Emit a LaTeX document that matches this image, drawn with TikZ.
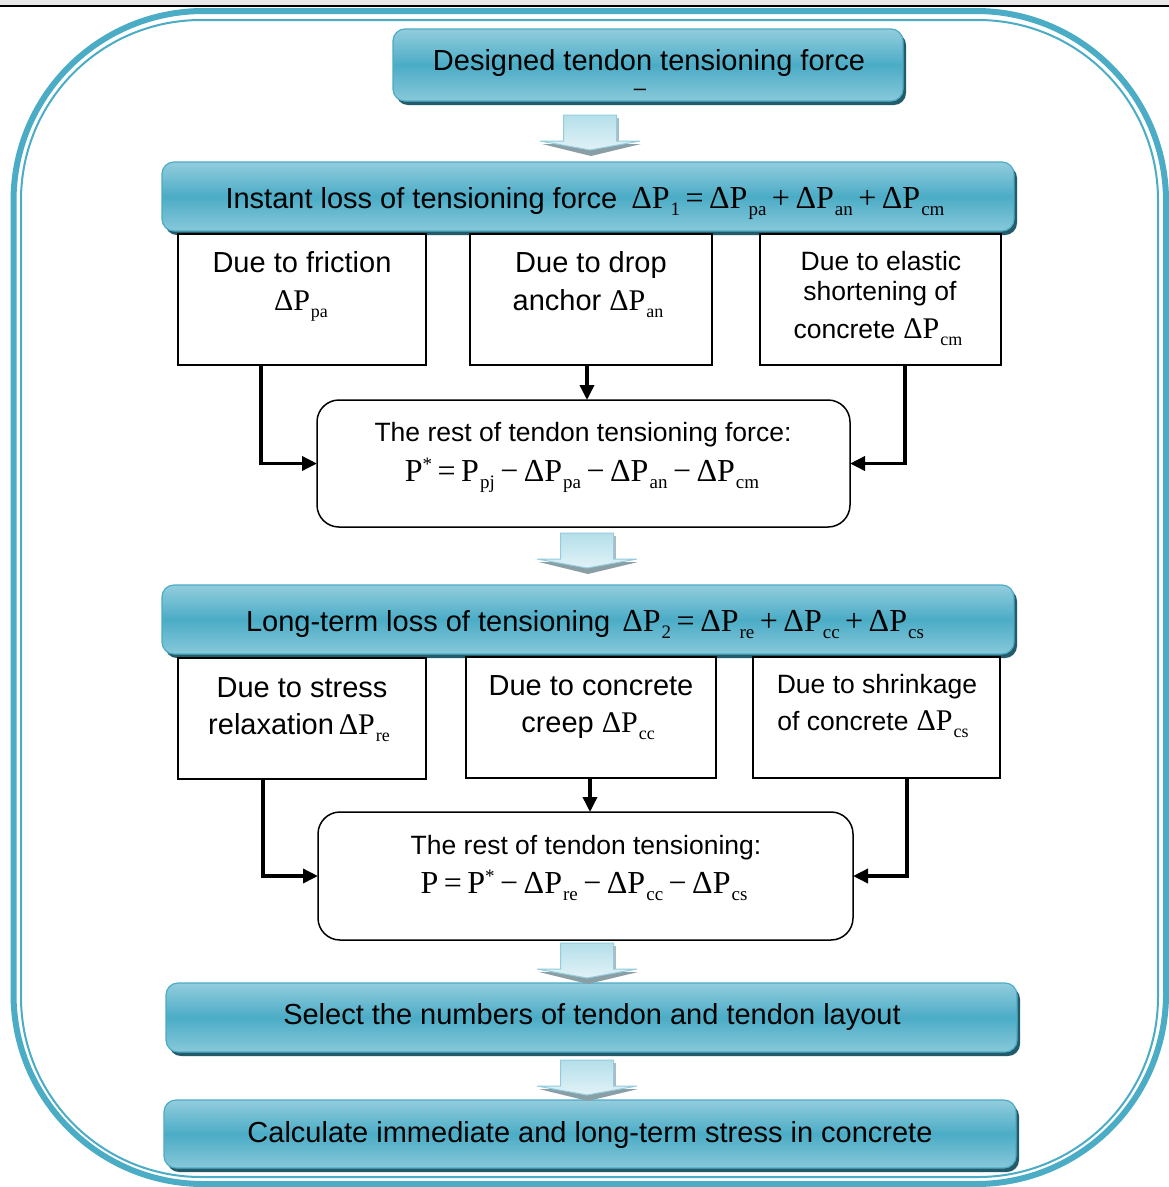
\documentclass[tikz,border=0pt]{standalone}
\usepackage{fontspec}
\setmainfont{Liberation Sans}
\newfontfamily\tms{Liberation Serif}
\usetikzlibrary{arrows.meta,shadows,calc}
\definecolor{teal1}{HTML}{4BACC6}
\definecolor{teall}{HTML}{93CDDD}
\definecolor{tshadow}{HTML}{245B6B}
\definecolor{arrlight}{HTML}{E2F2F7}
\definecolor{arrmid}{HTML}{B4DFEA}
\definecolor{arrshadow}{HTML}{8A9FA5}
\newcommand\mfs{\fontsize{32}{32}\selectfont}
\newcommand\sfs{\fontsize{19}{19}\selectfont}
\newcommand\bfs{\fontsize{30}{30}\selectfont}
\newcommand\bsfs{\fontsize{18}{18}\selectfont}
\newcommand\DP[1]{{\tms\mfs ΔP\kern1pt\raisebox{-7.5pt}{\sfs #1}}}
\newcommand\DPb[1]{{\tms\bfs ΔP\kern1pt\raisebox{-7pt}{\bsfs #1}}}
\newcommand\Pp[1]{{\tms\mfs P\kern1pt\raisebox{-7.5pt}{\sfs #1}}}
\newcommand\Pst{{\tms\mfs P\raisebox{11pt}{\sfs *}}}
\newcommand\op[1]{{\tms\mfs\hspace{5.5pt}#1\hspace{5.5pt}}}
\tikzset{
  barrow/.pic={
    \fill[arrshadow] (-48,29) -- (51,29) -- (1,41) -- cycle;
    \fill[arrshadow!70] (26.5,3) rectangle (29,27);
    \draw[teall, line width=1pt, top color=arrmid, bottom color=arrlight]
      (-26.5,0) -- (26.5,0) -- (26.5,26) -- (50,26) -- (0,35)
      -- (-50,26) -- (-26.5,26) -- cycle;
  }
}
\begin{document}
\begin{tikzpicture}[x=1pt,y=-1pt,
  hdr/.style={draw=teal1, line width=1.2pt, rounded corners=12pt,
    top color=teall, bottom color=teall!85!teal1, middle color=teal1,
    inner sep=0pt, outer sep=0pt,
    general shadow={fill=tshadow, shadow xshift=3pt, shadow yshift=-4pt}},
  pbox/.style={draw=black, line width=1.5pt, fill=white, inner sep=0pt, outer sep=0pt},
  rbox/.style={pbox, rounded corners=22pt},
  conn/.style={line width=3.5pt, -{Triangle[length=15pt,width=14pt]}},
  lbl/.style={anchor=base, inner sep=0pt, font=\fontsize{29}{34}\selectfont},
  lbls/.style={anchor=base, inner sep=0pt, font=\fontsize{26.5}{30}\selectfont},
]
\useasboundingbox (0,0) rectangle (1169,1187);
\fill[white] (0,0) rectangle (1169,1187);
% top strip
\fill[gray!18] (0,0) rectangle (1169,5);
\draw[line width=2pt] (0,6) -- (1169,6);
% frame
\draw[teal1, line width=6pt, rounded corners=190pt] (13.5,11) rectangle (1166,1184);
\draw[teal1, line width=2pt, rounded corners=180pt] (21,20) rectangle (1158,1177);

% headers
\node[hdr, minimum width=510pt, minimum height=72pt] (h1) at (648,65) {};
\node[hdr, minimum width=852pt, minimum height=69pt] (h2) at (588,196.5) {};
\node[hdr, minimum width=852pt, minimum height=69pt] (h3) at (588,619.5) {};
\node[hdr, minimum width=851pt, minimum height=69pt] (h4) at (591.5,1017.5) {};
\node[hdr, minimum width=852pt, minimum height=68pt] (h5) at (590,1134) {};

% plain boxes
\node[pbox, minimum width=248pt, minimum height=131pt] (fr) at (302,299.5) {};
\node[pbox, minimum width=242pt, minimum height=131pt] (dr) at (591,299.5) {};
\node[pbox, minimum width=241pt, minimum height=131pt] (el) at (880.5,299.5) {};
\node[rbox, minimum width=533pt, minimum height=127pt] (rest) at (583.5,463.5) {};
\node[pbox, minimum width=248pt, minimum height=121pt] (sr) at (302,718.5) {};
\node[pbox, minimum width=250pt, minimum height=121pt] (cr) at (591,717.5) {};
\node[pbox, minimum width=247pt, minimum height=121pt] (sh) at (876.5,717.5) {};
\node[rbox, minimum width=535pt, minimum height=128pt] (rest2) at (585.5,876) {};

% block arrows
\pic at (590,115) {barrow};
\pic at (587,533) {barrow};
\pic at (587,943) {barrow};
\pic at (587,1060) {barrow};

% connectors
\draw[conn] ([xshift=-41pt]fr.south) |- (rest.west);
\draw[conn] ([xshift=-4pt]dr.south) -- ([xshift=-4pt]dr.south |- rest.north);
\draw[conn] ([xshift=24.5pt]el.south) |- (rest.east);
\draw[conn] ([xshift=-39pt]sr.south) |- (rest2.west);
\draw[conn] ([xshift=-1pt]cr.south) -- ([xshift=-1pt]cr.south |- rest2.north);
\draw[conn] ([xshift=30.5pt]sh.south) |- (rest2.east);

% texts
\node[lbl] (t1) at (649,70) {Designed tendon tensioning force};
\node[anchor=base, inner sep=0pt, font=\fontsize{22}{22}\selectfont] (t1b) at (640,95) {–};
\node[lbl] (t2) at (585,208) {Instant loss of tensioning force\hspace{14pt}\DP{1}\op{=}\DP{pa}\op{+}\DP{an}\op{+}\DP{cm}};
\node[lbl] (t3a) at (302,272) {Due to friction};
\node[lbl] (t3b) at (301,310) {\DPb{pa}};
\node[lbl] (t4a) at (591,272) {Due to drop};
\node[lbl] (t4b) at (588,310) {anchor\hspace{8pt}\DPb{an}};
\node[lbls] (t5a) at (881,270) {Due to elastic};
\node[lbls] (t5b) at (880,300) {shortening of};
\node[lbls] (t5c) at (878,338) {concrete\hspace{8pt}\DPb{cm}};
\node[lbls] (t6a) at (583,441) {The rest of tendon tensioning force:};
\node[lbl] (t6b) at (582,481) {\Pst\op{=}\Pp{pj}\op{−}\DP{pa}\op{−}\DP{an}\op{−}\DP{cm}};
\node[lbl] (t7) at (585,631) {Long-term loss of tensioning\hspace{12pt}\DP{2}\op{=}\DP{re}\op{+}\DP{cc}\op{+}\DP{cs}};
\node[lbl] (t8a) at (302,697) {Due to stress};
\node[lbl] (t8b) at (299,734) {relaxation\,\DPb{re}};
\node[lbl] (t9a) at (591,695) {Due to concrete};
\node[lbl] (t9b) at (588,732) {creep\hspace{8pt}\DPb{cc}};
\node[lbls] (t10a) at (877,693) {Due to shrinkage};
\node[lbls] (t10b) at (873,730) {of concrete\hspace{8pt}\DPb{cs}};
\node[lbls] (t11a) at (586,854) {The rest of tendon tensioning:};
\node[lbl] (t11b) at (584,893) {{\tms\mfs P}\op{=}\Pst\op{−}\DP{re}\op{−}\DP{cc}\op{−}\DP{cs}};
\node[lbl] (t12) at (592,1024) {Select the numbers of tendon and tendon layout};
\node[lbl] (t13) at (590,1142) {Calculate immediate and long-term stress in concrete};
\end{tikzpicture}
\end{document}
